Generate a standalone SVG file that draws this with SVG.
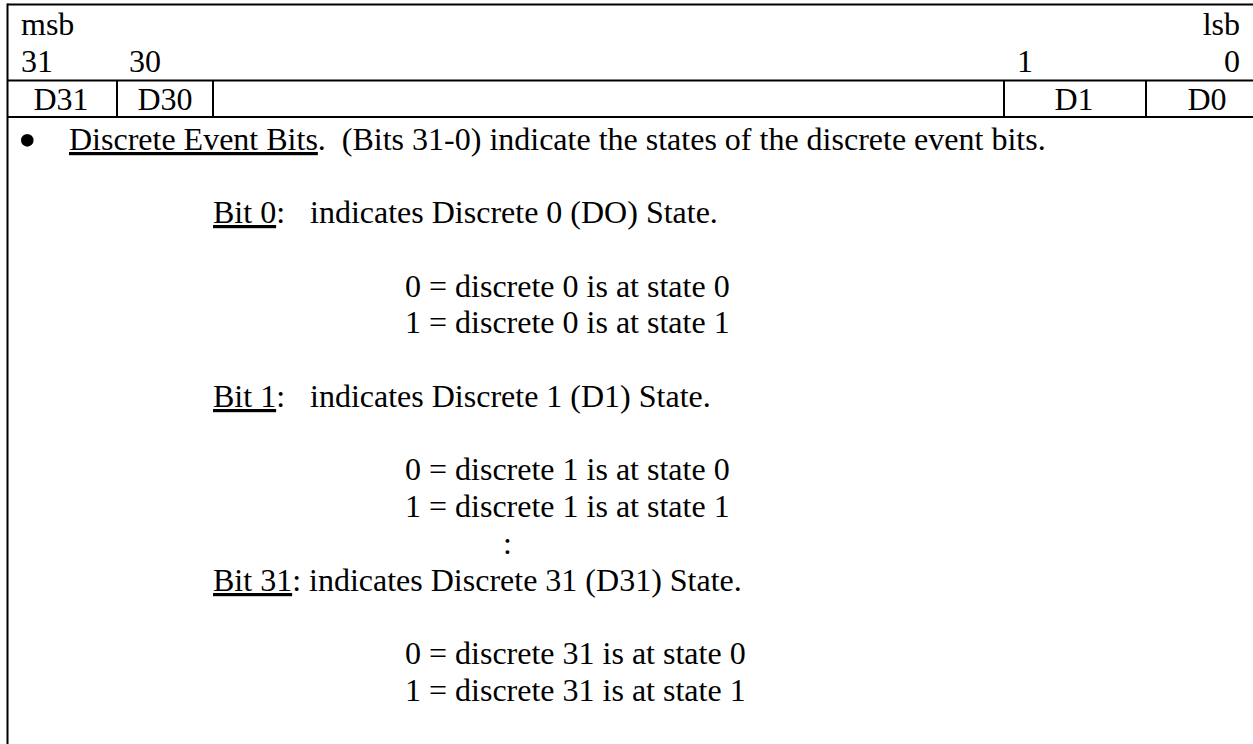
<svg xmlns="http://www.w3.org/2000/svg" width="1253" height="744" viewBox="0 0 1253 744">
  <style>
    .rule { stroke: #000; stroke-width: 2; fill: none; }
    .t { font-family: "Liberation Serif", "Times New Roman", serif; font-size: 32px; fill: #000; }
    .u { text-decoration: underline; }
    .mid { text-anchor: middle; }
    .end { text-anchor: end; }
  </style>
  <rect width="1253" height="744" fill="#fff"/>

  <!-- table rules -->
  <g id="table-rules">
    <line class="rule" x1="7.5" y1="4.5" x2="1253" y2="4.5"/>
    <line class="rule" x1="7.5" y1="3.5" x2="7.5" y2="744"/>
    <line class="rule" x1="7.5" y1="80.5" x2="1253" y2="80.5"/>
    <line class="rule" x1="7.5" y1="117" x2="1253" y2="117"/>
    <line class="rule" x1="117" y1="80.5" x2="117" y2="117"/>
    <line class="rule" x1="213" y1="80.5" x2="213" y2="117"/>
    <line class="rule" x1="1004" y1="80.5" x2="1004" y2="117"/>
    <line class="rule" x1="1146" y1="80.5" x2="1146" y2="117"/>
  </g>

  <!-- header: bit numbering -->
  <g id="header">
    <text class="t" x="21" y="35">msb</text>
    <text class="t end" x="1240" y="35">lsb</text>
    <text class="t" x="21" y="72">31</text>
    <text class="t" x="129" y="72">30</text>
    <text class="t" x="1017" y="72">1</text>
    <text class="t end" x="1240" y="72">0</text>
  </g>

  <!-- bit field cells -->
  <g id="cell-d31"><text class="t mid" x="61" y="110">D31</text></g>
  <g id="cell-d30"><text class="t mid" x="165" y="110">D30</text></g>
  <g id="cell-d1"><text class="t mid" x="1074" y="110">D1</text></g>
  <g id="cell-d0"><text class="t mid" x="1207" y="110">D0</text></g>

  <!-- field description -->
  <g id="description">
    <text class="t" x="18" y="158" style="font-size:53px">•</text>
    <text class="t" x="69" y="150" xml:space="preserve"><tspan class="u">Discrete Event Bits</tspan>.  (Bits 31-0) indicate the states of the discrete event bits.</text>

    <text class="t" x="213" y="223"><tspan class="u">Bit 0</tspan>:</text>
    <text class="t" x="310" y="223">indicates Discrete 0 (DO) State.</text>
    <text class="t" x="405" y="296.5">0 = discrete 0 is at state 0</text>
    <text class="t" x="405" y="333.3">1 = discrete 0 is at state 1</text>

    <text class="t" x="213" y="407"><tspan class="u">Bit 1</tspan>:</text>
    <text class="t" x="310" y="407">indicates Discrete 1 (D1) State.</text>
    <text class="t" x="405" y="480">0 = discrete 1 is at state 0</text>
    <text class="t" x="405" y="517">1 = discrete 1 is at state 1</text>
    <text class="t" x="503" y="554">:</text>

    <text class="t" x="213" y="591"><tspan class="u">Bit 31</tspan>: indicates Discrete 31 (D31) State.</text>
    <text class="t" x="405" y="664">0 = discrete 31 is at state 0</text>
    <text class="t" x="405" y="701">1 = discrete 31 is at state 1</text>
  </g>
</svg>
